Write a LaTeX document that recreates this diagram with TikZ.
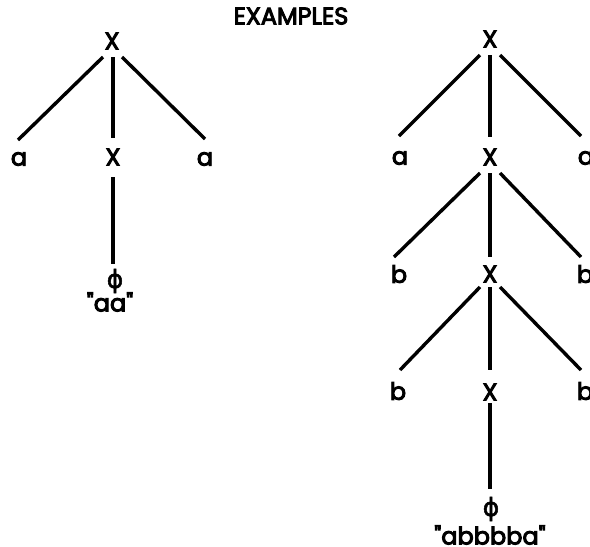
\documentclass[tikz,border=0pt]{standalone}
\usepackage{fontspec}
\setmainfont{Poppins}
\newfontfamily\lblfont{Poppins}[FakeBold=4]
\newfontfamily\symfont{DejaVu Sans}[FakeBold=2]
\begin{document}
\begin{tikzpicture}[x=1pt,y=-1pt,
  lbl/.style={font=\fontsize{24}{27}\lblfont, inner sep=0pt},
  ttl/.style={font=\fontsize{24}{27}\lblfont, inner sep=0pt},
  phi/.style={font=\fontsize{25}{28}\symfont, inner sep=0pt},
  edge/.style={line width=3.4pt}]
\useasboundingbox (0,0) rectangle (590,547);
\node[ttl] (title) at (291,16) {EXAMPLES};
% left tree
\node[lbl] (l0) at (112,41) {X};
\node[lbl] (la1) at (19,159) {a};
\node[lbl] (lx1) at (113,157) {X};
\node[lbl] (la2) at (205,159) {a};
\node[phi] (lphi) at (115,281) {ϕ};
\node[lbl] (lstr) at (110,302) {"aa"};
\draw[edge] ([shift={(-9,16)}]l0.center) -- ([shift={(-1,-19)}]la1.center);
\draw[edge] ([shift={(1,16)}]l0.center) -- ([shift={(0,-19)}]lx1.center);
\draw[edge] ([shift={(10,16)}]l0.center) -- ([shift={(0,-20)}]la2.center);
\draw[edge] ([shift={(0,20)}]lx1.center) -- ([shift={(-2,-17)}]lphi.center);
% right tree
\node[lbl] (r0) at (490,39) {X};
\node[lbl] (ra1) at (400,158) {a};
\node[lbl] (rx1) at (490,157) {X};
\node[lbl] (ra2) at (586,158) {a};
\node[lbl] (rb1) at (399,274) {b};
\node[lbl] (rx2) at (490,274) {X};
\node[lbl] (rb2) at (585,274) {b};
\node[lbl] (rb3) at (398,391) {b};
\node[lbl] (rx3) at (490,392) {X};
\node[lbl] (rb4) at (585,391) {b};
\node[phi] (rphi) at (491,509) {ϕ};
\node[lbl] (rstr) at (490,535) {"abbbba"};
\draw[edge] ([shift={(-10,16)}]r0.center) -- ([shift={(-1,-22)}]ra1.center);
\draw[edge] ([shift={(0,16)}]r0.center) -- ([shift={(0,-20)}]rx1.center);
\draw[edge] ([shift={(10,16)}]r0.center) -- ([shift={(-5,-22)}]ra2.center);
\draw[edge] ([shift={(-10,16)}]rx1.center) -- ([shift={(-5,-17)}]rb1.center);
\draw[edge] ([shift={(0,16)}]rx1.center) -- ([shift={(0,-17)}]rx2.center);
\draw[edge] ([shift={(10,16)}]rx1.center) -- ([shift={(-4,-17)}]rb2.center);
\draw[edge] ([shift={(-10,13)}]rx2.center) -- ([shift={(2,-21)}]rb3.center);
\draw[edge] ([shift={(0,13)}]rx2.center) -- ([shift={(0,-22)}]rx3.center);
\draw[edge] ([shift={(10,13)}]rx2.center) -- ([shift={(-4,-21)}]rb4.center);
\draw[edge] ([shift={(0,11)}]rx3.center) -- ([shift={(-1,-20)}]rphi.center);
\end{tikzpicture}
\end{document}
